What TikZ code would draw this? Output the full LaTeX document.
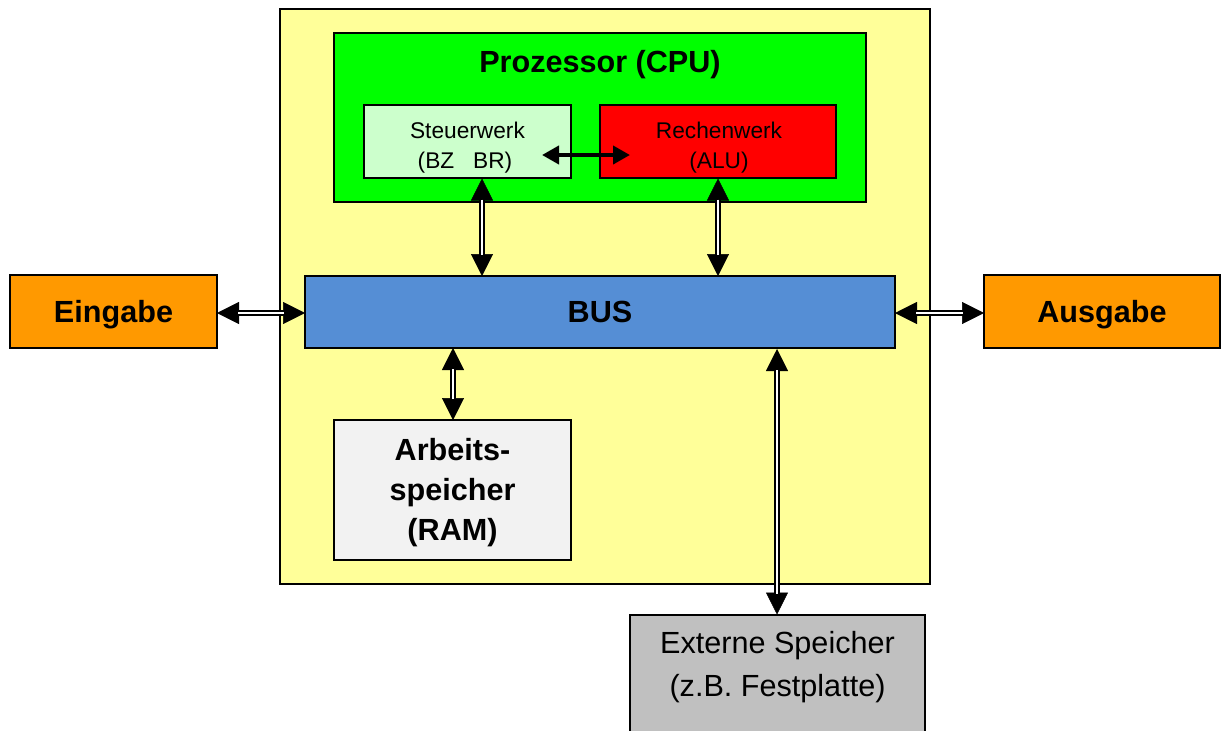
\documentclass[tikz,border=0pt]{standalone}
\usepackage{fontspec}
\setmainfont{Liberation Sans}
\usetikzlibrary{arrows.meta}
\definecolor{cyel}{HTML}{FFFF99}
\definecolor{cgreen}{HTML}{00FF00}
\definecolor{clgreen}{HTML}{CCFFCC}
\definecolor{cred}{HTML}{FF0000}
\definecolor{cblue}{HTML}{558ED5}
\definecolor{corange}{HTML}{FF9900}
\definecolor{cram}{HTML}{F2F2F2}
\definecolor{cext}{HTML}{C0C0C0}
\tikzset{
  box/.style={draw=black, line width=1.5pt, inner sep=0pt},
  big/.style={anchor=base, inner sep=0pt, font=\fontsize{30.6}{36}\selectfont\bfseries},
  small/.style={anchor=base, inner sep=0pt, font=\fontsize{22.7}{27}\selectfont},
  reg/.style={anchor=base, inner sep=0pt, font=\fontsize{30.6}{36}\selectfont},
  dshaft/.style={line width=1.8pt, double=white, double distance=2.4pt, shorten <=21pt, shorten >=21pt},
  dtips/.style={line width=0.5pt, {Triangle[length=22pt,width=22pt]}-{Triangle[length=22pt,width=22pt]}},
}
\begin{document}
\begin{tikzpicture}[x=1pt,y=-1pt]
\useasboundingbox (0,0) rectangle (1224,731);
\clip (0,0) rectangle (1224,731);
% main yellow
\node[box, fill=cyel, minimum width=650pt, minimum height=575pt] (sys) at (605,296.5) {};
% CPU
\node[box, fill=cgreen, minimum width=532pt, minimum height=169pt] (cpu) at (600,117.5) {};
\node[big] (cputxt) at (600,72) {Prozessor (CPU)};
\node[box, fill=clgreen, minimum width=207pt, minimum height=73pt] (steu) at (467.5,141.5) {};
\node[small] (steut1) at (467.5,138.7) {Steuerwerk};
\node[small] (steut2) at (465,168.7) {(BZ\ \ \ BR)};
\node[box, fill=cred, minimum width=236pt, minimum height=73pt] (rech) at (718,141.5) {};
\node[small] (recht1) at (719,138.7) {Rechenwerk};
\node[small] (recht2) at (719,168.7) {(ALU)};
% BUS and I/O
\node[box, fill=cblue, minimum width=590pt, minimum height=72pt] (bus) at (600,312) {};
\node[big] (bustxt) at (600,322) {BUS};
\node[box, fill=corange, minimum width=207pt, minimum height=73pt] (ein) at (113.5,311.5) {};
\node[big] (eintxt) at (113.5,322) {Eingabe};
\node[box, fill=corange, minimum width=236pt, minimum height=73pt] (aus) at (1102,311.5) {};
\node[big] (austxt) at (1102,322) {Ausgabe};
% RAM
\node[box, fill=cram, minimum width=237pt, minimum height=140pt] (ram) at (452.5,490) {};
\node[big] (ramt1) at (452.5,460) {Arbeits-};
\node[big] (ramt2) at (452.5,500) {speicher};
\node[big] (ramt3) at (452.5,540) {(RAM)};
% external storage
\node[box, fill=cext, minimum width=295pt, minimum height=140pt] (ext) at (777.5,685) {};
\node[reg] (extt1) at (777.5,653) {Externe Speicher};
\node[reg] (extt2) at (777.5,696) {(z.B. Festplatte)};
% coordinates
\coordinate (s1) at (482,178.5);
\coordinate (s2) at (482,276);
\coordinate (r1) at (718,178.5);
\coordinate (r2) at (718,276);
\coordinate (m1) at (453,348);
\coordinate (m2) at (453,420);
\coordinate (e1) at (777,349);
\coordinate (e2) at (777,614.5);
\coordinate (sr1) at (542,155);
\coordinate (sr2) at (630,155);
\coordinate (ei1) at (217,313);
\coordinate (ei2) at (305,313);
\coordinate (au1) at (895,313);
\coordinate (au2) at (984,313);
% arrows
\foreach \a/\b in {s1/s2, r1/r2, m1/m2, e1/e2, ei1/ei2, au1/au2} {
  \draw[dtips] (\a) -- (\b);
  \draw[dshaft] (\a) -- (\b);
}
\draw[line width=4pt, {Triangle[length=17pt,width=18pt]}-{Triangle[length=17pt,width=18pt]}] (sr1) -- (sr2);
\end{tikzpicture}
\end{document}
